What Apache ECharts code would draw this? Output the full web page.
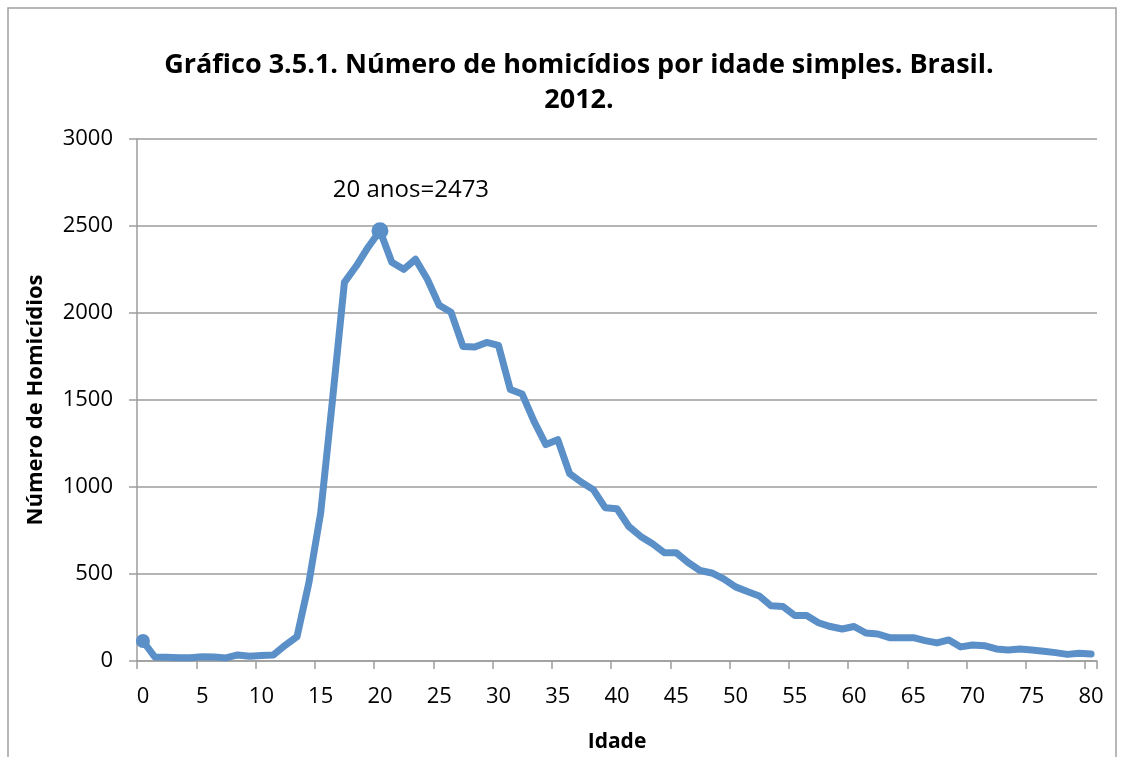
<!DOCTYPE html>
<html>
<head>
<meta charset="utf-8">
<script src="https://cdn.jsdelivr.net/npm/echarts@6/dist/echarts.min.js"></script>
<style>
  html, body { margin: 0; padding: 0; background: #fff; }
  #chart { width: 1121px; height: 757px; }
</style>
</head>
<body>
<div id="chart"></div>
<script>
// idades 0..80
const idades = [];
for (let i = 0; i <= 80; i++) idades.push(String(i));

// número de homicídios por idade
const homicidios = [
  115, 23, 21, 19, 19, 25, 23, 18, 35, 27,
  32, 35, 90, 140, 449, 852, 1503, 2176, 2270, 2378,
  2473, 2292, 2251, 2309, 2194, 2044, 2004, 1808, 1805, 1831,
  1814, 1560, 1534, 1377, 1244, 1272, 1077, 1027, 985, 881,
  875, 773, 716, 674, 622, 622, 566, 520, 506, 472,
  426, 399, 374, 317, 313, 261, 261, 220, 198, 184,
  198, 161, 155, 134, 134, 134, 117, 104, 121, 81,
  92, 88, 69, 63, 69, 63, 56, 48, 38, 44,
  40
];

const tituloLinhas = ['Gráfico 3.5.1. Número de homicídios por idade simples. Brasil.', '2012.'];
const nomeX = 'Idade';
const nomeY = 'Número de Homicídios';
const idadePico = 20;
const rotuloPico = '20 anos=2473';

const fonte = '"Open Sans", "DejaVu Sans", sans-serif';
const azul = '#5B8FC8';
const cinza = '#9d9d9d';

let chart = echarts.init(document.getElementById('chart'));

let seriesData = homicidios.map((v, i) => {
  if (i === 0) {
    return { value: v, symbol: 'circle', symbolSize: 14 };
  }
  if (i === idadePico) {
    return {
      value: v,
      symbol: 'circle',
      symbolSize: 17,
      label: {
        show: true,
        position: 'top',
        distance: 20,
        offset: [31, 0],
        formatter: rotuloPico,
        fontFamily: fonte,
        fontSize: 24,
        color: '#000'
      }
    };
  }
  return { value: v, symbol: 'none' };
});

let option = {
  backgroundColor: '#fff',
  animation: false,
  title: {
    text: tituloLinhas.join('\n'),
    left: 574,
    top: 43,
    textAlign: 'center',
    textStyle: {
      fontFamily: fonte,
      fontSize: 27,
      fontWeight: 'bold',
      color: '#000',
      lineHeight: 35
    }
  },
  graphic: [
    {
      type: 'rect',
      shape: { x: 8, y: 8, width: 1108, height: 800 },
      style: { fill: 'none', stroke: '#a0a0a0', lineWidth: 1.5 },
      silent: true
    }
  ],
  grid: {
    left: 137,
    right: 24,
    top: 139,
    bottom: 96,
    outerBoundsMode: 'none',
    containLabel: false
  },
  xAxis: {
    type: 'category',
    data: idades,
    boundaryGap: true,
    name: nomeX,
    nameLocation: 'middle',
    nameGap: 71,
    nameTextStyle: {
      fontFamily: fonte,
      fontSize: 21,
      fontWeight: 'bold',
      color: '#000'
    },
    axisLine: { lineStyle: { color: cinza, width: 1.5 } },
    axisTick: { show: true, interval: 4, length: 8, lineStyle: { color: cinza, width: 1.5 } },
    axisLabel: {
      interval: 4,
      margin: 25,
      fontFamily: fonte,
      fontSize: 22,
      color: '#000'
    },
    splitLine: { show: false }
  },
  yAxis: {
    type: 'value',
    min: 0,
    max: 3000,
    interval: 500,
    name: nomeY,
    nameLocation: 'middle',
    nameRotate: 90,
    nameGap: 90,
    nameTextStyle: {
      fontFamily: fonte,
      fontSize: 22,
      fontWeight: 'bold',
      color: '#000'
    },
    axisLine: { show: true, lineStyle: { color: cinza, width: 1.5 } },
    axisTick: { show: true, length: 8, lineStyle: { color: cinza, width: 1.5 } },
    axisLabel: {
      margin: 24,
      formatter: v => String(v),
      fontFamily: fonte,
      fontSize: 22,
      color: '#000'
    },
    splitLine: { lineStyle: { color: cinza, width: 1.5 } }
  },
  series: [
    {
      type: 'line',
      data: seriesData,
      lineStyle: { color: azul, width: 7, join: 'round', cap: 'round' },
      itemStyle: { color: azul, borderWidth: 0 },
      showSymbol: true,
      smooth: false
    }
  ]
};

chart.setOption(option);
</script>
</body>
</html>
